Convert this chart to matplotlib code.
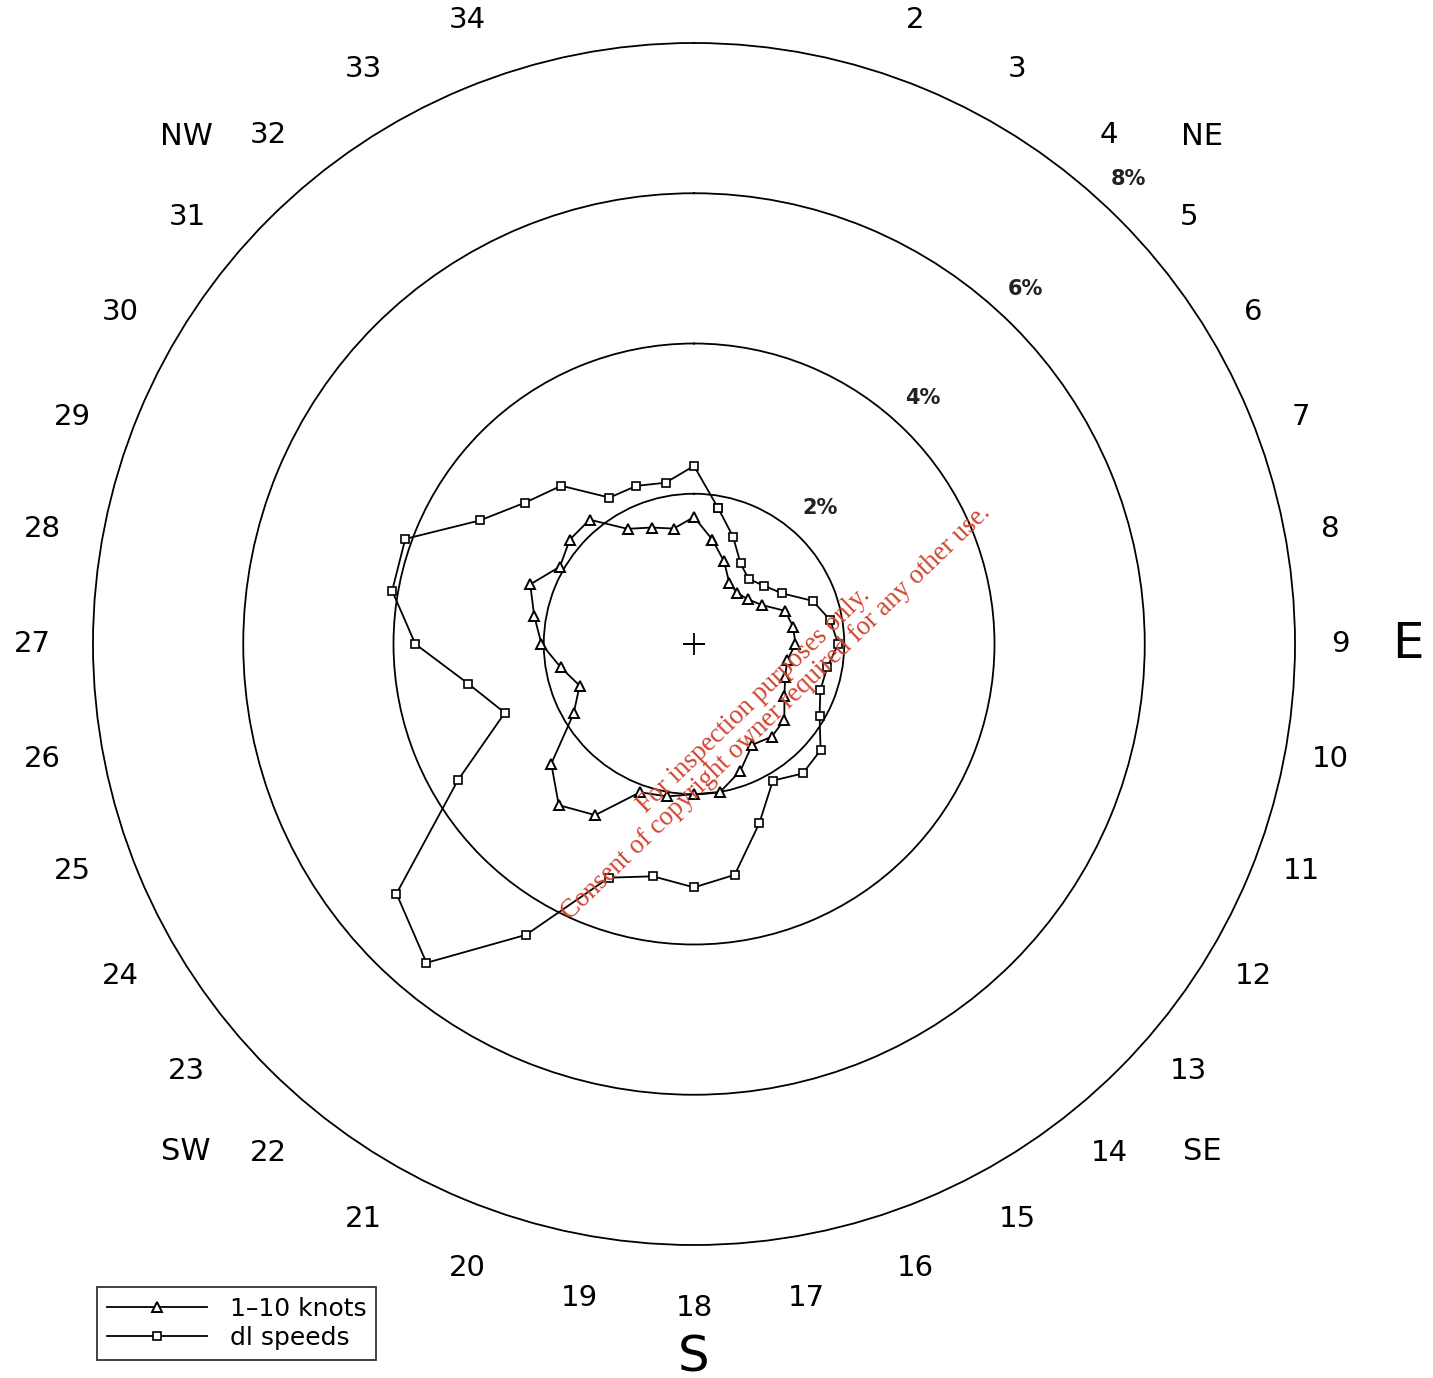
import numpy as np
import matplotlib
matplotlib.use("Agg")
import matplotlib.pyplot as plt
from matplotlib.lines import Line2D

# ---- data (percent frequency by direction, directions 1..36 = 10..360 deg)
directions = list(range(1, 37))
knots_1_10 = [1.41, 1.17, 0.94, 0.89, 0.93, 1.04, 1.29, 1.34, 1.35, 1.26,
              1.29, 1.39, 1.57, 1.61, 1.55, 1.80, 2.00, 2.00, 2.06, 2.10,
              2.63, 2.80, 2.48, 1.85, 1.62, 1.80, 2.03, 2.16, 2.32, 2.06,
              2.16, 2.16, 1.77, 1.65, 1.56, 1.69]
all_speeds = [1.84, 1.52, 1.24, 1.13, 1.21, 1.35, 1.68, 1.84, 1.92, 1.80,
              1.79, 1.93, 2.20, 2.25, 2.10, 2.54, 3.12, 3.24, 3.14, 3.31,
              4.47, 5.54, 5.17, 3.63, 2.68, 3.05, 3.71, 4.08, 4.09, 3.29,
              2.93, 2.75, 2.25, 2.24, 2.18, 2.37]
ring_values = [2, 4, 6, 8]
ring_labels = ["2%", "4%", "6%", "8%"]
compass_labels = ["NE", "E", "SE", "S", "SW", "NW"]
compass_angles = [45, 90, 135, 180, 225, 315]
legend_labels = ["1\u201310 knots", "dl speeds"]

W, H = 1433, 1378
fig = plt.figure(figsize=(W / 100, H / 100), dpi=100)
cx, cy, R = 694, 644, 601
ax = fig.add_axes([(cx - R) / W, (H - cy - R) / H, 2 * R / W, 2 * R / H],
                  projection="polar")
ax.set_theta_zero_location("N")
ax.set_theta_direction(-1)
ax.set_ylim(0, ring_values[-1])
ax.set_rgrids(ring_values[:-1], labels=[""] * 3)
ax.set_thetagrids([])
ax.tick_params(axis="both", length=0)
ax.xaxis.grid(False)
ax.yaxis.grid(True, color="black", linewidth=1.3, linestyle="-")
ax.spines["polar"].set_color("black")
ax.spines["polar"].set_linewidth(1.3)
ax.set_facecolor("white")

theta = np.deg2rad(np.array(directions) * 10.0)
th_c = np.append(theta, theta[0])
k_c = np.append(knots_1_10, knots_1_10[0])
a_c = np.append(all_speeds, all_speeds[0])

ax.plot(th_c, k_c, color="black", lw=1.3, marker="^", ms=6.5,
        mfc="white", mec="black", mew=1.4, clip_on=False)
ax.plot(th_c, a_c, color="black", lw=1.3, marker="s", ms=5.5,
        mfc="white", mec="black", mew=1.2, clip_on=False)

# centre cross
ax.plot([0], [0], marker="+", ms=16, mew=1.3, color="black")

# ring labels
for rv, rl in zip(ring_values, ring_labels):
    ax.text(np.deg2rad(43), rv + 0.47, rl, ha="center", va="center",
            fontsize=15, fontweight="bold", color="#222222")

# direction numbers (slightly elliptical label ring, as in the original)
rx, ry = 654, 664
for d, th in zip(directions, theta):
    if d == 36:
        continue  # falls entirely outside the cropped picture
    px = cx - 8 * abs(np.sin(th)) + rx * np.sin(th)
    py = cy - ry * np.cos(th)
    fig.text(px / W, 1 - py / H, str(d), ha="center", va="center",
             fontsize=21, color="black")

# compass labels
for lab, ang in zip(compass_labels, compass_angles):
    if lab in ("E", "S"):
        ax.text(np.deg2rad(ang), 9.5, lab, ha="center", va="center",
                fontsize=36, color="black", clip_on=False)
    else:
        ax.text(np.deg2rad(ang), 9.56, lab, ha="center", va="center",
                fontsize=22, color="black", clip_on=False)

# legend
handles = [Line2D([], [], color="black", lw=1.3, marker="^", ms=6.5,
                  mfc="white", mec="black", mew=1.4),
           Line2D([], [], color="black", lw=1.3, marker="s", ms=5.5,
                  mfc="white", mec="black", mew=1.2)]
leg = fig.legend(handles, legend_labels, loc="lower left",
                 bbox_to_anchor=(97 / W, 18 / H), bbox_transform=fig.transFigure,
                 frameon=True, fancybox=False, edgecolor="black", fontsize=18,
                 handlelength=4.0, numpoints=1, borderpad=0.4,
                 labelspacing=0.2, handletextpad=0.9, borderaxespad=0)
leg.get_frame().set_linewidth(1.3)

# watermark
wm_color = "#d0452f"
fig.text(754 / W, 1 - 700 / H, "For inspection purposes only.",
         rotation=44, rotation_mode="anchor", ha="center", va="center",
         color=wm_color, fontsize=19.2, family=["Liberation Serif", "DejaVu Serif"])
fig.text(776 / W, 1 - 713 / H,
         "Consent of copyright owner required for any other use.",
         rotation=44, rotation_mode="anchor", ha="center", va="center",
         color=wm_color, fontsize=19.2, family=["Liberation Serif", "DejaVu Serif"])

fig.savefig("out.png", dpi=100, facecolor="white")
